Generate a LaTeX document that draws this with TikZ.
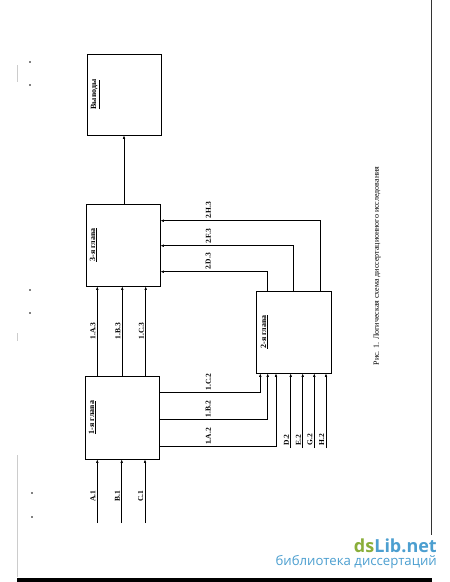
\documentclass[tikz,border=0pt]{standalone}
\usepackage{fontspec}
\setmainfont{Liberation Serif}
\newfontfamily\wmfont{Open Sans}
\usetikzlibrary{arrows.meta}
\definecolor{wmgreen}{HTML}{8AAE3A}
\definecolor{wmblue}{HTML}{4C9FD0}
\tikzset{
  chapter/.style = {draw, line width=0.7pt, inner sep=0pt, minimum width=74pt, minimum height=82pt},
  title/.style = {rotate=90, anchor=north, inner sep=0pt, font=\fontsize{8}{9}\selectfont\bfseries},
  lab/.style = {rotate=90, inner sep=1.5pt, font=\fontsize{7.5}{8}\selectfont\bfseries},
  link/.style = {line width=0.6pt, -{Latex[length=3.5pt,width=2.6pt]}},
  scan/.style = {black!20, line width=0.6pt}
}
\newcommand{\feed}[5]{\draw[link] (#1,#2) -- (#1,0 |- #3.south) node[lab, above, pos=#4] (in#5) {#5};}

\begin{document}
\begin{tikzpicture}[x=1pt, y=-1pt]
\useasboundingbox[fill=white] (0,0) rectangle (450,582);
\node[chapter, minimum height=81pt] (vyvody) at (124,94.5) {};
\node[chapter] (glava3) at (123,245) {};
\node[chapter, minimum height=83pt] (glava1) at (122,417.5) {};
\node[chapter, minimum width=75pt] (glava2) at (293.5,332) {};
\node[title] (tvyvody) at ([xshift=4pt]vyvody.west) {\underline{Выводы}};
\node[title] (tglava3) at ([xshift=4pt]glava3.west) {\underline{3-я глава}};
\node[title] (tglava1) at ([xshift=4pt]glava1.west) {\underline{1-я глава}};
\node[title] (tglava2) at ([xshift=5pt]glava2.west) {\underline{2-я глава}};
\draw[link] (vyvody.south |- glava3.north) -- (vyvody.south);
\feed{97.3}{523}{glava1}{0.42}{A.1}
\feed{121.7}{523}{glava1}{0.42}{B.1}
\feed{145}{523}{glava1}{0.42}{C.1}
\feed{290.7}{448}{glava2}{0.11}{D.2}
\feed{302.7}{448}{glava2}{0.11}{E.2}
\feed{314.3}{448}{glava2}{0.11}{G.2}
\feed{326}{448}{glava2}{0.11}{H.2}
\draw[link] (97.3,0 |- glava1.north) -- (97.3,0 |- glava3.south) node[lab, above, midway] (lA3) {1.A.3};
\draw[link] (122.3,0 |- glava1.north) -- (122.3,0 |- glava3.south) node[lab, above, midway] (lB3) {1.B.3};
\draw[link] (145.7,0 |- glava1.north) -- (145.7,0 |- glava3.south) node[lab, above, midway] (lC3) {1.C.3};
\draw[link] (glava1.east |- 0,392.3) -| (260.3,0 |- glava2.south) node[lab, right, pos=0.243] (lC2) {1.C.2};
\draw[link] (glava1.east |- 0,419) -| (267.7,0 |- glava2.south) node[lab, right, pos=0.225] (lB2) {1.B.2};
\draw[link] (glava1.east |- 0,446.7) -| (276,0 |- glava2.south) node[lab, right, pos=0.21] (lA2) {1.A.2};
\draw[link] (267.7,0 |- glava2.north) |- (glava3.east |- 0,271.7) node[lab, right, pos=0.777] (lD3) {2.D.3};
\draw[link] (293.7,0 |- glava2.north) |- (glava3.east |- 0,245.7) node[lab, right, pos=0.82] (lF3) {2.F.3};
\draw[link] (320.7,0 |- glava2.north) |- (glava3.east |- 0,220.7) node[lab, right, pos=0.85] (lH3) {2.H.3};
\node[rotate=90, font=\fontsize{8}{9}\selectfont] (caption) at (377,266) {Рис. 1. Логическая схема диссертационного исследования};
\draw[line width=0.8pt, black!80] (431.5,0) -- (431.5,535);
\fill (17,577.5) rectangle (432,582);
\draw[scan] (17,65) -- (17,82) (17,333) -- (17,341) (17,455) -- (17,577);
\foreach \px/\py in {30/62, 30/85, 30/290, 30/313, 32/493, 32/517}
  \fill (\px,\py) circle (0.9pt);
\node[anchor=base east, inner sep=0pt, font=\wmfont\bfseries\fontsize{18}{19}\selectfont] (wmtop) at (437,552) {\textcolor{wmgreen}{ds}\textcolor{wmblue}{Lib.net}};
\node[anchor=base east, inner sep=0pt, text=wmblue, font=\wmfont\fontsize{13.2}{14}\selectfont] (wmbottom) at (437,565) {библиотека диссертаций};
\end{tikzpicture}
\end{document}
